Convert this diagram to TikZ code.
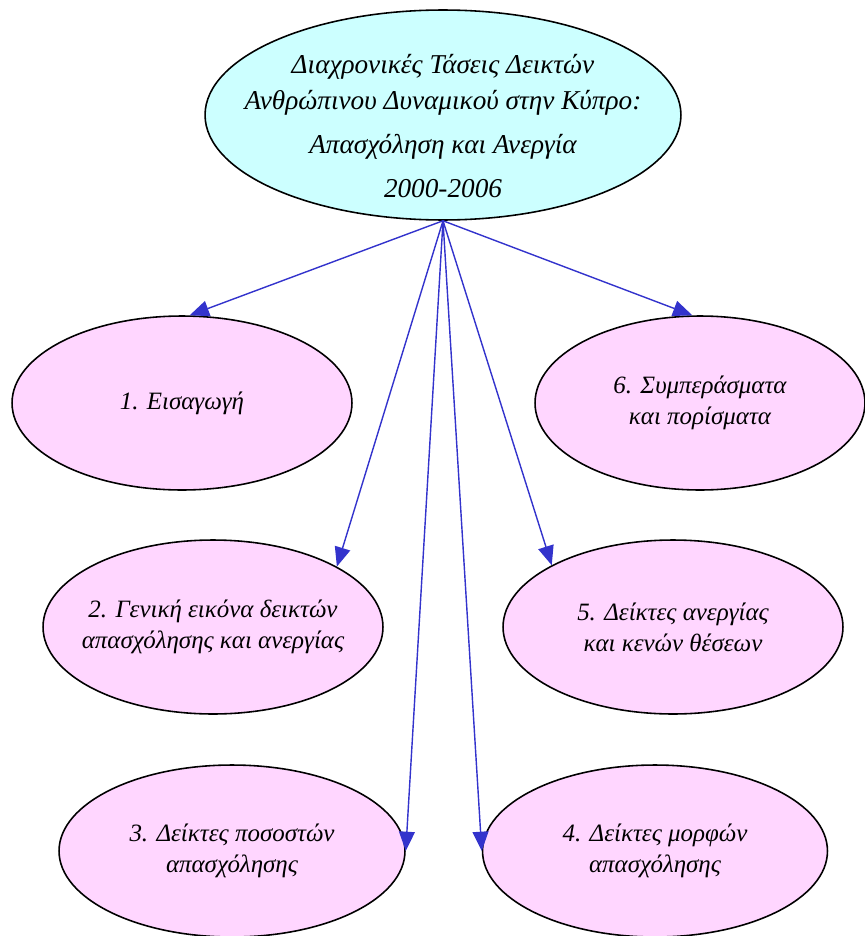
\documentclass[tikz,border=0pt]{standalone}
\usepackage{fontspec}
\setmainfont{Liberation Serif}
\usepackage{tikz}
\usetikzlibrary{shapes.geometric, arrows.meta}

\definecolor{TitleFill}{RGB}{204,255,255}
\definecolor{ChapFill}{RGB}{255,214,255}
\definecolor{LinkBlue}{RGB}{51,51,204}

\begin{document}
\begin{tikzpicture}[x=0.02cm, y=-0.02cm,
    Title/.style={ellipse, draw, line width=0.9pt, fill=TitleFill, inner sep=0pt,
      minimum width=9.52cm, minimum height=4.2cm},
    TitleText/.style={align=center, font=\fontsize{15.5}{21}\selectfont\itshape},
    Chapter/.style={ellipse, draw, line width=0.9pt, fill=ChapFill, inner sep=0pt,
      minimum width=6.8cm, minimum height=3.48cm},
    ChapText/.style={align=center, font=\fontsize{14.2}{17.5}\selectfont\itshape},
    Link/.style={LinkBlue, line width=0.8pt, -{Triangle[length=11pt, width=9pt]}}]
    \useasboundingbox (0,0) rectangle (865,936);% Keeps the page size

    \node[Title] (Main) at (443,115) {};
    \node[TitleText] (MainText) at (443,126) {Διαχρονικές Τάσεις Δεικτών\\
      Ανθρώπινου Δυναμικού στην Κύπρο:\\[4pt]
      Απασχόληση και Ανεργία\\[4pt] 2000-2006};

    \node[Chapter] (Intro) at (182,403) {};
    \node[Chapter, minimum width=6.6cm] (Results) at (700,403) {};
    \node[Chapter] (Overview) at (213,627) {};
    \node[Chapter] (Jobless) at (673,627) {};
    \node[Chapter, minimum width=6.92cm, minimum height=3.44cm] (Rates) at (232,851) {};
    \node[Chapter, minimum width=6.9cm, minimum height=3.44cm] (Forms) at (655,851) {};

    % the texts go on top of the ellipses, so these keep their size
    \node[ChapText] (IntroText) at (Intro) {1. Εισαγωγή};
    \node[ChapText] (ResultsText) at (Results) {6. Συμπεράσματα\\ και πορίσματα};
    \node[ChapText] (OverviewText) at (Overview) {2. Γενική εικόνα δεικτών\\ απασχόλησης και ανεργίας};
    \node[ChapText] (JoblessText) at (Jobless) {5. Δείκτες ανεργίας\\ και κενών θέσεων};
    \node[ChapText] (RatesText) at (Rates) {3. Δείκτες ποσοστών\\ απασχόλησης};
    \node[ChapText] (FormsText) at (Forms) {4. Δείκτες μορφών\\ απασχόλησης};

    % one arrow from the title to every chapter
    \draw[Link] (Main.south) -- (Intro.85);
    \draw[Link] (Main.south) -- (Results.95);
    \draw[Link] (Main.south) -- (Overview.26);
    \draw[Link] (Main.south) -- (Jobless.153);
    \draw[Link] (Main.south) -- (Rates.east);
    \draw[Link] (Main.south) -- (Forms.west);
\end{tikzpicture}
\end{document}
